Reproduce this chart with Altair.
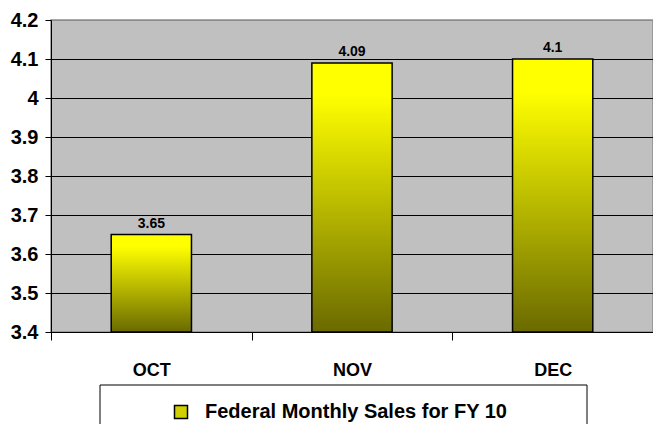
import altair as alt
import pandas as pd

months = ["OCT", "NOV", "DEC"]
sales = [3.65, 4.09, 4.1]
series_name = "Federal Monthly Sales for FY 10"
y_ticks = [3.4, 3.5, 3.6, 3.7, 3.8, 3.9, 4.0, 4.1, 4.2]
y_min, y_max = 3.4, 4.2

df = pd.DataFrame({"month": months, "value": sales, "series": [series_name] * len(months)})

FONT = "Liberation Sans"

gradient = {
    "gradient": "linear",
    "x1": 0, "y1": 0, "x2": 0, "y2": 1,
    "stops": [
        {"offset": 0, "color": "#FFFF00"},
        {"offset": 0.12, "color": "#FFFF00"},
        {"offset": 1, "color": "#6A6A00"},
    ],
}

x_enc = alt.X(
    "month:N",
    sort=months,
    scale=alt.Scale(paddingInner=0, paddingOuter=0),
    axis=alt.Axis(
        title=None,
        labelAngle=0,
        labelFont=FONT,
        labelFontSize=18,
        labelFontWeight="bold",
        labelColor="black",
        labelPadding=21,
        tickBand="extent",
        tickSize=8,
        tickColor="black",
        domainColor="black",
        grid=False,
    ),
)
y_enc = alt.Y(
    "value:Q",
    scale=alt.Scale(domain=[y_min, y_max], zero=False, nice=False),
    axis=alt.Axis(
        title=None,
        values=y_ticks,
        labelExpr="format(datum.value, '.1~f')",
        labelFont=FONT,
        labelFontSize=20,
        labelFontWeight="bold",
        labelColor="black",
        labelPadding=7,
        tickSize=6,
        tickColor="black",
        domainColor="black",
        grid=True,
        gridColor={"condition": {"test": "datum.value > 4.15", "value": "#8c8c8c"}, "value": "black"},
        gridOpacity=1,
    ),
)

legend_bar = alt.Chart(df).mark_bar(width=alt.RelativeBandSize(0.4)).encode(
    x=x_enc,
    y=y_enc,
    y2=alt.datum(y_min),
    color=alt.Color(
        "series:N",
        scale=alt.Scale(range=["#D0D000"]),
        legend=alt.Legend(
            title=None,
            orient="none",
            legendX=120,
            legendY=382,
            labelFont=FONT,
            labelFontSize=20,
            labelFontWeight="bold",
            labelColor="black",
            labelOffset=14,
            symbolType="square",
            symbolSize=169,
            symbolStrokeColor="black",
            symbolStrokeWidth=1.5,
            labelLimit=600,
        ),
    ),
)

bars = alt.Chart(df).mark_bar(
    width=alt.RelativeBandSize(0.4), fill=gradient, stroke="black", strokeWidth=1.5
).encode(x=x_enc, y=y_enc, y2=alt.datum(y_min))

labels = alt.Chart(df).mark_text(
    font=FONT, fontSize=14, fontWeight="bold", color="black", baseline="bottom", dy=-4
).encode(x=x_enc, y=y_enc, text=alt.Text("value:Q", format="~g"))

box = alt.Chart(pd.DataFrame({"a": [0]})).mark_rect(
    fill="white", stroke="black", strokeWidth=1
).encode(x=alt.value(49), x2=alt.value(536), y=alt.value(365), y2=alt.value(430))

chart = alt.layer(box, legend_bar, bars, labels).properties(
    width=602,
    height=312,
    autosize=alt.AutoSizeParams(type="none"),
    padding={"left": 43, "top": 12, "right": 0, "bottom": 92},
).configure_view(fill="#C0C0C0", stroke="#8c8c8c", strokeWidth=1.5)

chart.save("out.html", embed_options={"renderer": "svg", "actions": False})
